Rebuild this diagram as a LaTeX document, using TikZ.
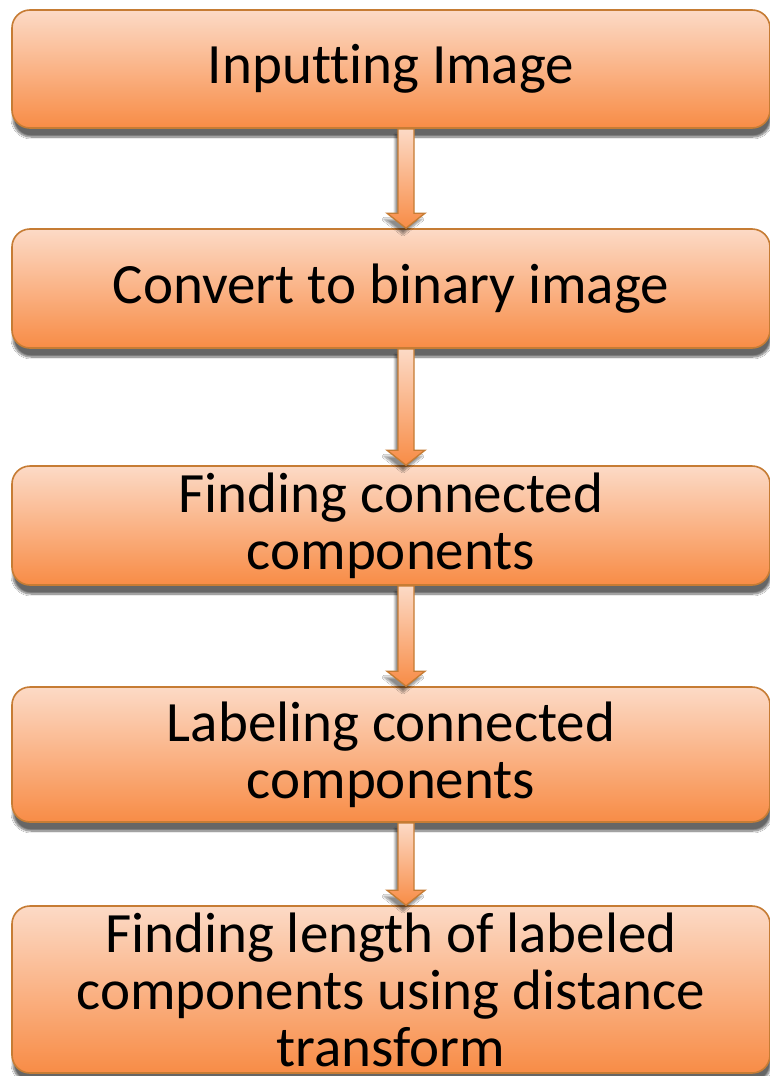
\documentclass[tikz,border=0pt]{standalone}
\usepackage{fontspec}
\setmainfont{Carlito}[Ligatures=NoCommon]
\usetikzlibrary{calc,shadows.blur}

\definecolor{peach}{RGB}{252,218,198}
\definecolor{tangerine}{RGB}{248,140,70}
\definecolor{rust}{RGB}{198,124,52}

\begin{document}
\begin{tikzpicture}[x=1pt,y=-1pt,
    stage/.style={rectangle, rounded corners=18pt, draw=rust, line width=1.6pt,
      top color=peach, bottom color=tangerine, minimum width=758pt,
      inner sep=0pt, align=center, font=\fontsize{57}{57}\selectfont,
      blur shadow={shadow xshift=1pt, shadow yshift=-9pt,
        shadow blur steps=10, shadow opacity=60}},
    flow/.style={draw=rust, line width=1.4pt, line join=miter,
      top color=peach, bottom color=tangerine,
      blur shadow={shadow xshift=-3pt, shadow yshift=-6pt,
        shadow blur steps=8, shadow opacity=45}}]
     \useasboundingbox[fill=white] (0,0) rectangle (770,1076);

     % steps, top to bottom
     \node[stage, minimum height=118pt] (input) at (391,69) {Inputting Image};
     \node[stage, minimum height=119pt] (binary) at (391,288.5) {Convert to binary image};
     \node[stage, minimum height=119pt] (finding) at (391,525.5) {Finding connected\\components};
     \node[stage, minimum height=135pt] (labeling) at (391,754.5) {Labeling connected\\components};
     \node[stage, minimum height=167pt] (length) at (391,989.5)
       {Finding length of labeled\\components using distance\\transform};

     % block arrows run down this line
     \coordinate (spine) at (406,0);
     \foreach \a/\b in {input/binary, binary/finding, finding/labeling, labeling/length} {
       \path[flow] ($(\a.south -| spine)+(-8pt,0pt)$) -- ($(\a.south -| spine)+(8pt,0pt)$)
         -- ($(\b.north -| spine)+(8pt,15pt)$) -- ($(\b.north -| spine)+(19pt,15pt)$)
         -- (\b.north -| spine) -- ($(\b.north -| spine)+(-19pt,15pt)$)
         -- ($(\b.north -| spine)+(-8pt,15pt)$) -- cycle;
     }
    \end{tikzpicture}
\end{document}
